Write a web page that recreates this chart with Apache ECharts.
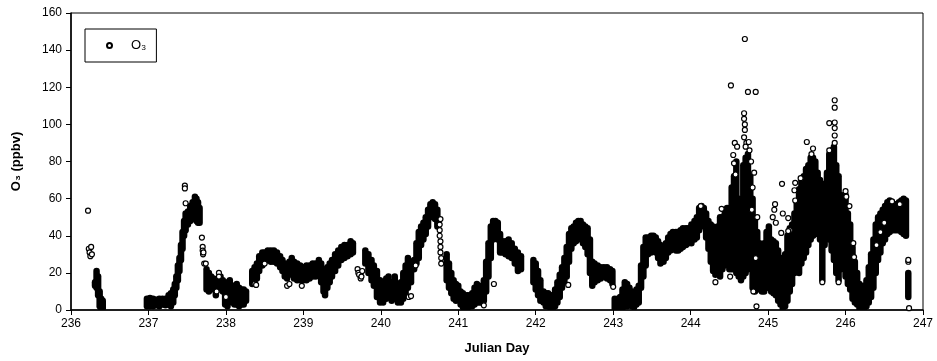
<!DOCTYPE html>
<html>
<head>
<meta charset="utf-8">
<script src="https://cdn.jsdelivr.net/npm/echarts@6/dist/echarts.min.js"></script>
<style>
  html, body { margin: 0; padding: 0; background: #fff; }
  #chart { width: 937px; height: 361px; }
</style>
</head>
<body>
<div id="chart"></div>
<script>
// dense O3 record: for each time step the spread of readings (low..high), ppbv
var bandDay = [
  236.31, 236.33, 236.35, 236.37, 236.39, 236.41,
  236.98, 237.02, 237.06, 237.10, 237.14, 237.18, 237.22, 237.26, 237.29, 237.32, 237.34, 237.36, 237.38,
  237.40, 237.42, 237.44, 237.46, 237.48, 237.51, 237.54, 237.57, 237.60, 237.62, 237.64, 237.66,
  237.75, 237.78, 237.81, 237.84, 237.87, 237.90, 237.93, 237.96, 237.99, 238.02, 238.05, 238.08,
  238.11, 238.14, 238.17, 238.20, 238.23, 238.26,
  238.34, 238.37, 238.40, 238.43, 238.47, 238.50, 238.54, 238.58, 238.62, 238.66, 238.70, 238.73,
  238.76, 238.79, 238.82, 238.85, 238.88, 238.92, 238.96, 239.00, 239.04, 239.08, 239.12, 239.16,
  239.20, 239.23, 239.26, 239.28, 239.31, 239.34, 239.37, 239.41, 239.45, 239.49, 239.53, 239.57,
  239.61, 239.64,
  239.80, 239.84, 239.88, 239.91, 239.95, 239.99, 240.03, 240.07, 240.10, 240.14, 240.18, 240.22,
  240.26, 240.29, 240.32, 240.35, 240.39, 240.43, 240.46, 240.49, 240.52, 240.55, 240.58, 240.61,
  240.64, 240.67, 240.70, 240.73,
  240.85, 240.88, 240.91, 240.94, 240.97, 241.00, 241.03, 241.06, 241.09, 241.12, 241.15, 241.18,
  241.21, 241.24, 241.27, 241.30, 241.33, 241.36, 241.39, 241.42, 241.45, 241.48, 241.51, 241.54,
  241.57, 241.61, 241.65, 241.69, 241.73, 241.77, 241.81,
  241.97, 242.00, 242.03, 242.06, 242.10, 242.13, 242.16, 242.19, 242.22, 242.25, 242.28, 242.31,
  242.34, 242.37, 242.40, 242.43, 242.46, 242.49, 242.52, 242.55, 242.58, 242.61, 242.64, 242.67,
  242.70, 242.73, 242.76, 242.80, 242.84, 242.88, 242.92, 242.96, 242.99,
  243.02, 243.06, 243.09, 243.12, 243.15, 243.18, 243.21, 243.24, 243.27, 243.30, 243.33, 243.36,
  243.39, 243.42, 243.45, 243.49, 243.52, 243.55, 243.58, 243.61, 243.65, 243.68, 243.71, 243.74,
  243.77, 243.81, 243.84, 243.87, 243.90, 243.94, 243.97, 244.01, 244.05, 244.08, 244.11, 244.14,
  244.17, 244.20, 244.23, 244.26, 244.29, 244.32, 244.35, 244.38, 244.41, 244.44, 244.47, 244.50,
  244.53, 244.56, 244.59, 244.62, 244.65, 244.68, 244.71, 244.74, 244.77, 244.80, 244.83, 244.86,
  244.89, 244.92, 244.95, 244.98, 245.01, 245.04, 245.07, 245.10, 245.13, 245.16, 245.19, 245.22,
  245.25, 245.28, 245.31, 245.34, 245.37, 245.40, 245.43, 245.46, 245.49, 245.52, 245.55, 245.58,
  245.61, 245.64, 245.67, 245.70, 245.73, 245.76, 245.79, 245.82, 245.85, 245.88, 245.91, 245.94,
  245.97, 246.00, 246.03, 246.06, 246.09, 246.12, 246.15, 246.18, 246.21, 246.24, 246.27, 246.30,
  246.33, 246.36, 246.39, 246.42, 246.45, 246.48, 246.51, 246.54, 246.57, 246.60, 246.63, 246.66,
  246.69, 246.72, 246.75, 246.78, 246.81
];
var bandLow = [
  13, 12, 8, 2, 1, 1,
  2, 2, 2, 2.5, 2, 3, 2.5, 3, 2, 4, 8, 12, 16,
  21, 27, 33, 40, 43, 46, 48, 50, 49, 48, 47, 47,
  11, 10, 11, 12, 8, 11, 12, 10, 3, 2, 5, 4,
  3, 3, 2, 3, 3, 5,
  14, 15, 17, 21, 24, 26, 27, 26, 26, 25, 23, 21,
  18, 17, 19, 20, 17, 16, 16, 16, 16, 17, 18, 18,
  19, 15, 10, 8, 12, 15, 18, 21, 24, 27, 28, 29,
  30, 31,
  25, 20, 16, 13, 7, 4, 4, 6, 7, 5, 6, 4,
  4, 6, 9, 12, 15, 22, 25, 28, 35, 38, 41, 45,
  50, 52, 49, 45,
  16, 12, 9, 6, 5, 6, 3, 1.5, 1, 1, 2, 2,
  3, 4, 4, 4, 5, 10, 18, 28, 38, 41, 38, 31,
  31, 30, 29, 28, 25, 21, 22,
  15, 11, 8, 5, 4, 2, 2, 1, 1, 2, 4, 7,
  12, 15, 18, 26, 33, 36, 37, 38, 39, 36, 34, 30,
  20, 13, 15, 16, 17, 18, 17, 16, 14,
  1, 1, 1, 1, 2, 2, 3, 2, 1.5, 3, 4, 12,
  18, 24, 30, 31, 32, 31, 28, 25, 26, 28, 31, 32,
  33, 32, 32, 33, 34, 35, 36, 36, 38, 39, 43, 46,
  45, 39, 33, 26, 21, 19, 20, 18, 22, 24, 25, 22,
  22, 22, 20, 18, 16, 18, 20, 22, 23, 12, 10, 15,
  11, 10, 10, 12, 12, 10, 9, 8, 5, 3, 1, 2,
  5, 10, 14, 20, 22, 20, 25, 28, 31, 35, 38, 40,
  41, 41, 38, 16, 35, 42, 38, 32, 27, 20, 16, 22,
  23, 18, 14, 11, 6, 4, 3, 1, 1, 1, 2, 4,
  7, 12, 20, 27, 31, 36, 38, 41, 42, 43, 43, 43,
  43, 42, 41, 40, 7
];
var bandHigh = [
  15, 21, 18, 10, 6, 5,
  6, 6.5, 6, 5.5, 6, 6, 6, 8, 9, 11, 14, 18, 24,
  28, 35, 42, 48, 52, 53, 56, 58, 61, 60, 58, 55,
  22, 20, 18, 17, 15, 17, 18, 16, 14, 15, 16, 13,
  13, 14, 12, 11, 11, 10,
  21, 23, 25, 29, 31, 31, 32, 32, 32, 31, 29, 27,
  25, 23, 26, 28, 26, 25, 24, 23, 24, 24, 25, 25,
  27, 25, 22, 20, 23, 25, 27, 30, 32, 34, 35, 35,
  37, 36,
  32, 30, 27, 24, 21, 16, 15, 17, 18, 15, 18, 14,
  15, 20, 24, 28, 26, 27, 36, 42, 45, 47, 50, 54,
  57, 58, 57, 54,
  30, 25, 20, 16, 14, 13, 10, 9, 8, 8, 8, 9,
  12, 14, 13, 12, 16, 26, 36, 45, 48, 48, 47, 41,
  37, 37, 38, 36, 33, 31, 29,
  27, 25, 21, 16, 10, 9, 9, 8, 8, 11, 15, 19,
  23, 28, 34, 41, 44, 45, 47, 48, 48, 46, 45, 44,
  38, 26, 25, 24, 23, 23, 23, 22, 21,
  6, 6, 7, 11, 15, 14, 12, 10, 9, 11, 13, 24,
  34, 39, 39, 40, 40, 39, 37, 35, 34, 36, 39, 41,
  42, 42, 42, 43, 44, 44, 44, 46, 48, 50, 55, 56,
  55, 52, 48, 46, 45, 43, 45, 50, 50, 52, 55, 55,
  66, 72, 80, 60, 56, 78, 82, 84, 72, 60, 48, 42,
  36, 35, 36, 42, 45, 38, 37, 36, 32, 28, 24, 30,
  40, 44, 46, 52, 58, 65, 70, 72, 76, 78, 82, 82,
  80, 74, 70, 63, 68, 74, 84, 86, 88, 78, 72, 62,
  58, 62, 52, 46, 34, 26, 20, 14, 12, 13, 16, 23,
  30, 38, 46, 50, 52, 54, 56, 58, 59, 58, 57, 57,
  58, 59, 60, 59, 20
];

// isolated readings drawn as single open circles
var sparseDay = [
  236.22, 236.23, 236.24, 236.25, 236.26, 236.27,
  237.47, 237.47, 237.48, 237.69, 237.70, 237.70, 237.705, 237.71, 237.72, 237.74,
  237.88, 237.91, 237.91, 238.00,
  238.37, 238.39, 238.50, 238.79, 238.82, 238.98,
  239.70, 239.71, 239.72, 239.74, 239.76, 239.75,
  240.36, 240.39, 240.45, 240.76, 240.76, 240.77, 240.77, 240.77, 240.78, 240.78, 240.76, 240.77,
  241.33, 241.46, 242.42, 243.00,
  244.13, 244.40, 244.32, 244.51, 244.52, 244.55, 244.56, 244.57, 244.58, 244.60,
  244.70, 244.69, 244.69, 244.70, 244.70, 244.69, 244.72, 244.71, 244.74, 244.84,
  244.75, 244.76, 244.78, 244.80, 244.82, 244.79, 244.86, 244.84, 244.81, 244.85,
  245.06, 245.08, 245.09, 245.10, 245.18, 245.19, 245.26, 245.28, 245.17, 245.26,
  245.35, 245.34, 245.35, 245.42, 245.50, 245.58, 245.56,
  245.79, 245.79, 245.86, 245.86, 245.86, 245.86, 245.86, 245.86, 245.70, 245.91,
  246.00, 246.01, 246.05, 246.10, 246.11, 246.40, 246.45, 246.50, 246.60, 246.70,
  246.81, 246.81, 246.82
];
var sparseO3 = [
  53.5, 33, 31, 29, 34, 30,
  67, 65.5, 57.5, 39, 34, 32, 30, 31, 25, 25,
  10, 20, 18, 7,
  14, 13.5, 25, 13, 14, 13,
  22, 20, 19, 17, 21, 18,
  7, 7.5, 24, 43, 40, 37, 34, 31, 28, 25, 46, 49,
  2.5, 14, 13.5, 12.5,
  56, 54.5, 15, 18, 121, 83.5, 79, 90, 73, 88,
  146, 106, 103, 100, 97, 93, 90, 88, 117.5, 117.5,
  90.5, 86, 80, 66, 74, 54, 50, 28, 10, 2,
  50, 54, 57, 47, 68, 52, 49.5, 43, 41.5, 42.5,
  68.5, 64.5, 59, 71, 90.5, 87, 84,
  100.7, 86, 113, 109, 101, 98, 94, 90, 15, 15,
  64, 61, 56, 36, 28.5, 35, 42, 47, 58.5, 57,
  26, 27, 1
];

var xMin = 236, xMax = 247, xStep = 1;
var yMin = 0, yMax = 160, yStep = 20;

var chartDom = document.getElementById("chart");
var myChart = echarts.init(chartDom, null, { renderer: "canvas" });

var band = bandDay.map(function (d, i) { return [d, bandLow[i], bandHigh[i]]; });
var sparse = sparseDay.map(function (d, i) { return [d, sparseO3[i]]; });

var labelFont = { color: "#000", fontFamily: "Liberation Sans", fontSize: 12 };
var nameFont = { color: "#000", fontFamily: "Liberation Sans", fontSize: 13, fontWeight: "bold" };

var option = {
  animation: false,
  backgroundColor: "#fff",
  grid: {
    left: 71, right: 14, top: 13, bottom: 51,
    show: true, borderColor: "#000", borderWidth: 1
  },
  legend: {
    left: 85, top: 29,
    padding: [10, 10, 10, 21],
    borderColor: "#000", borderWidth: 1,
    itemWidth: 5, itemHeight: 5,
    data: [{ name: "O\u2083", icon: "circle" }],
    textStyle: { color: "#000", fontFamily: "Liberation Sans", fontSize: 13, padding: [0, 0, 0, 14] }
  },
  xAxis: {
    type: "value", min: xMin, max: xMax, interval: xStep,
    name: "Julian Day", nameLocation: "middle", nameGap: 32,
    nameTextStyle: nameFont,
    axisLine: { lineStyle: { color: "#000", width: 1.5 } },
    axisTick: { show: true, inside: false, length: 5, lineStyle: { color: "#000" } },
    axisLabel: Object.assign({ margin: 8 }, labelFont),
    splitLine: { show: false }
  },
  yAxis: {
    type: "value", min: yMin, max: yMax, interval: yStep,
    name: "O\u2083 (ppbv)", nameLocation: "middle", nameGap: 48,
    nameTextStyle: nameFont,
    axisLine: { show: true, lineStyle: { color: "#000", width: 1.5 } },
    axisTick: { show: true, inside: false, length: 5, lineStyle: { color: "#000" } },
    axisLabel: Object.assign({ margin: 9 }, labelFont),
    splitLine: { show: false }
  },
  series: [
    {
      name: "O\u2083 band",
      type: "custom",
      clip: true,
      encode: { x: 0, y: [1, 2] },
      data: band,
      renderItem: function (params, api) {
        var p1 = api.coord([api.value(0), api.value(1)]);
        var p2 = api.coord([api.value(0), api.value(2)]);
        return {
          type: "line",
          shape: { x1: p1[0], y1: p1[1], x2: p2[0], y2: p2[1] },
          style: { stroke: "#000", lineWidth: 6.5, lineCap: "round" }
        };
      }
    },
    {
      name: "O\u2083",
      type: "scatter",
      symbol: "circle",
      symbolSize: 5,
      itemStyle: { color: "#fff", borderColor: "#000", borderWidth: 1.2, opacity: 1 },
      data: sparse
    }
  ]
};

option && myChart.setOption(option);
</script>
</body>
</html>
